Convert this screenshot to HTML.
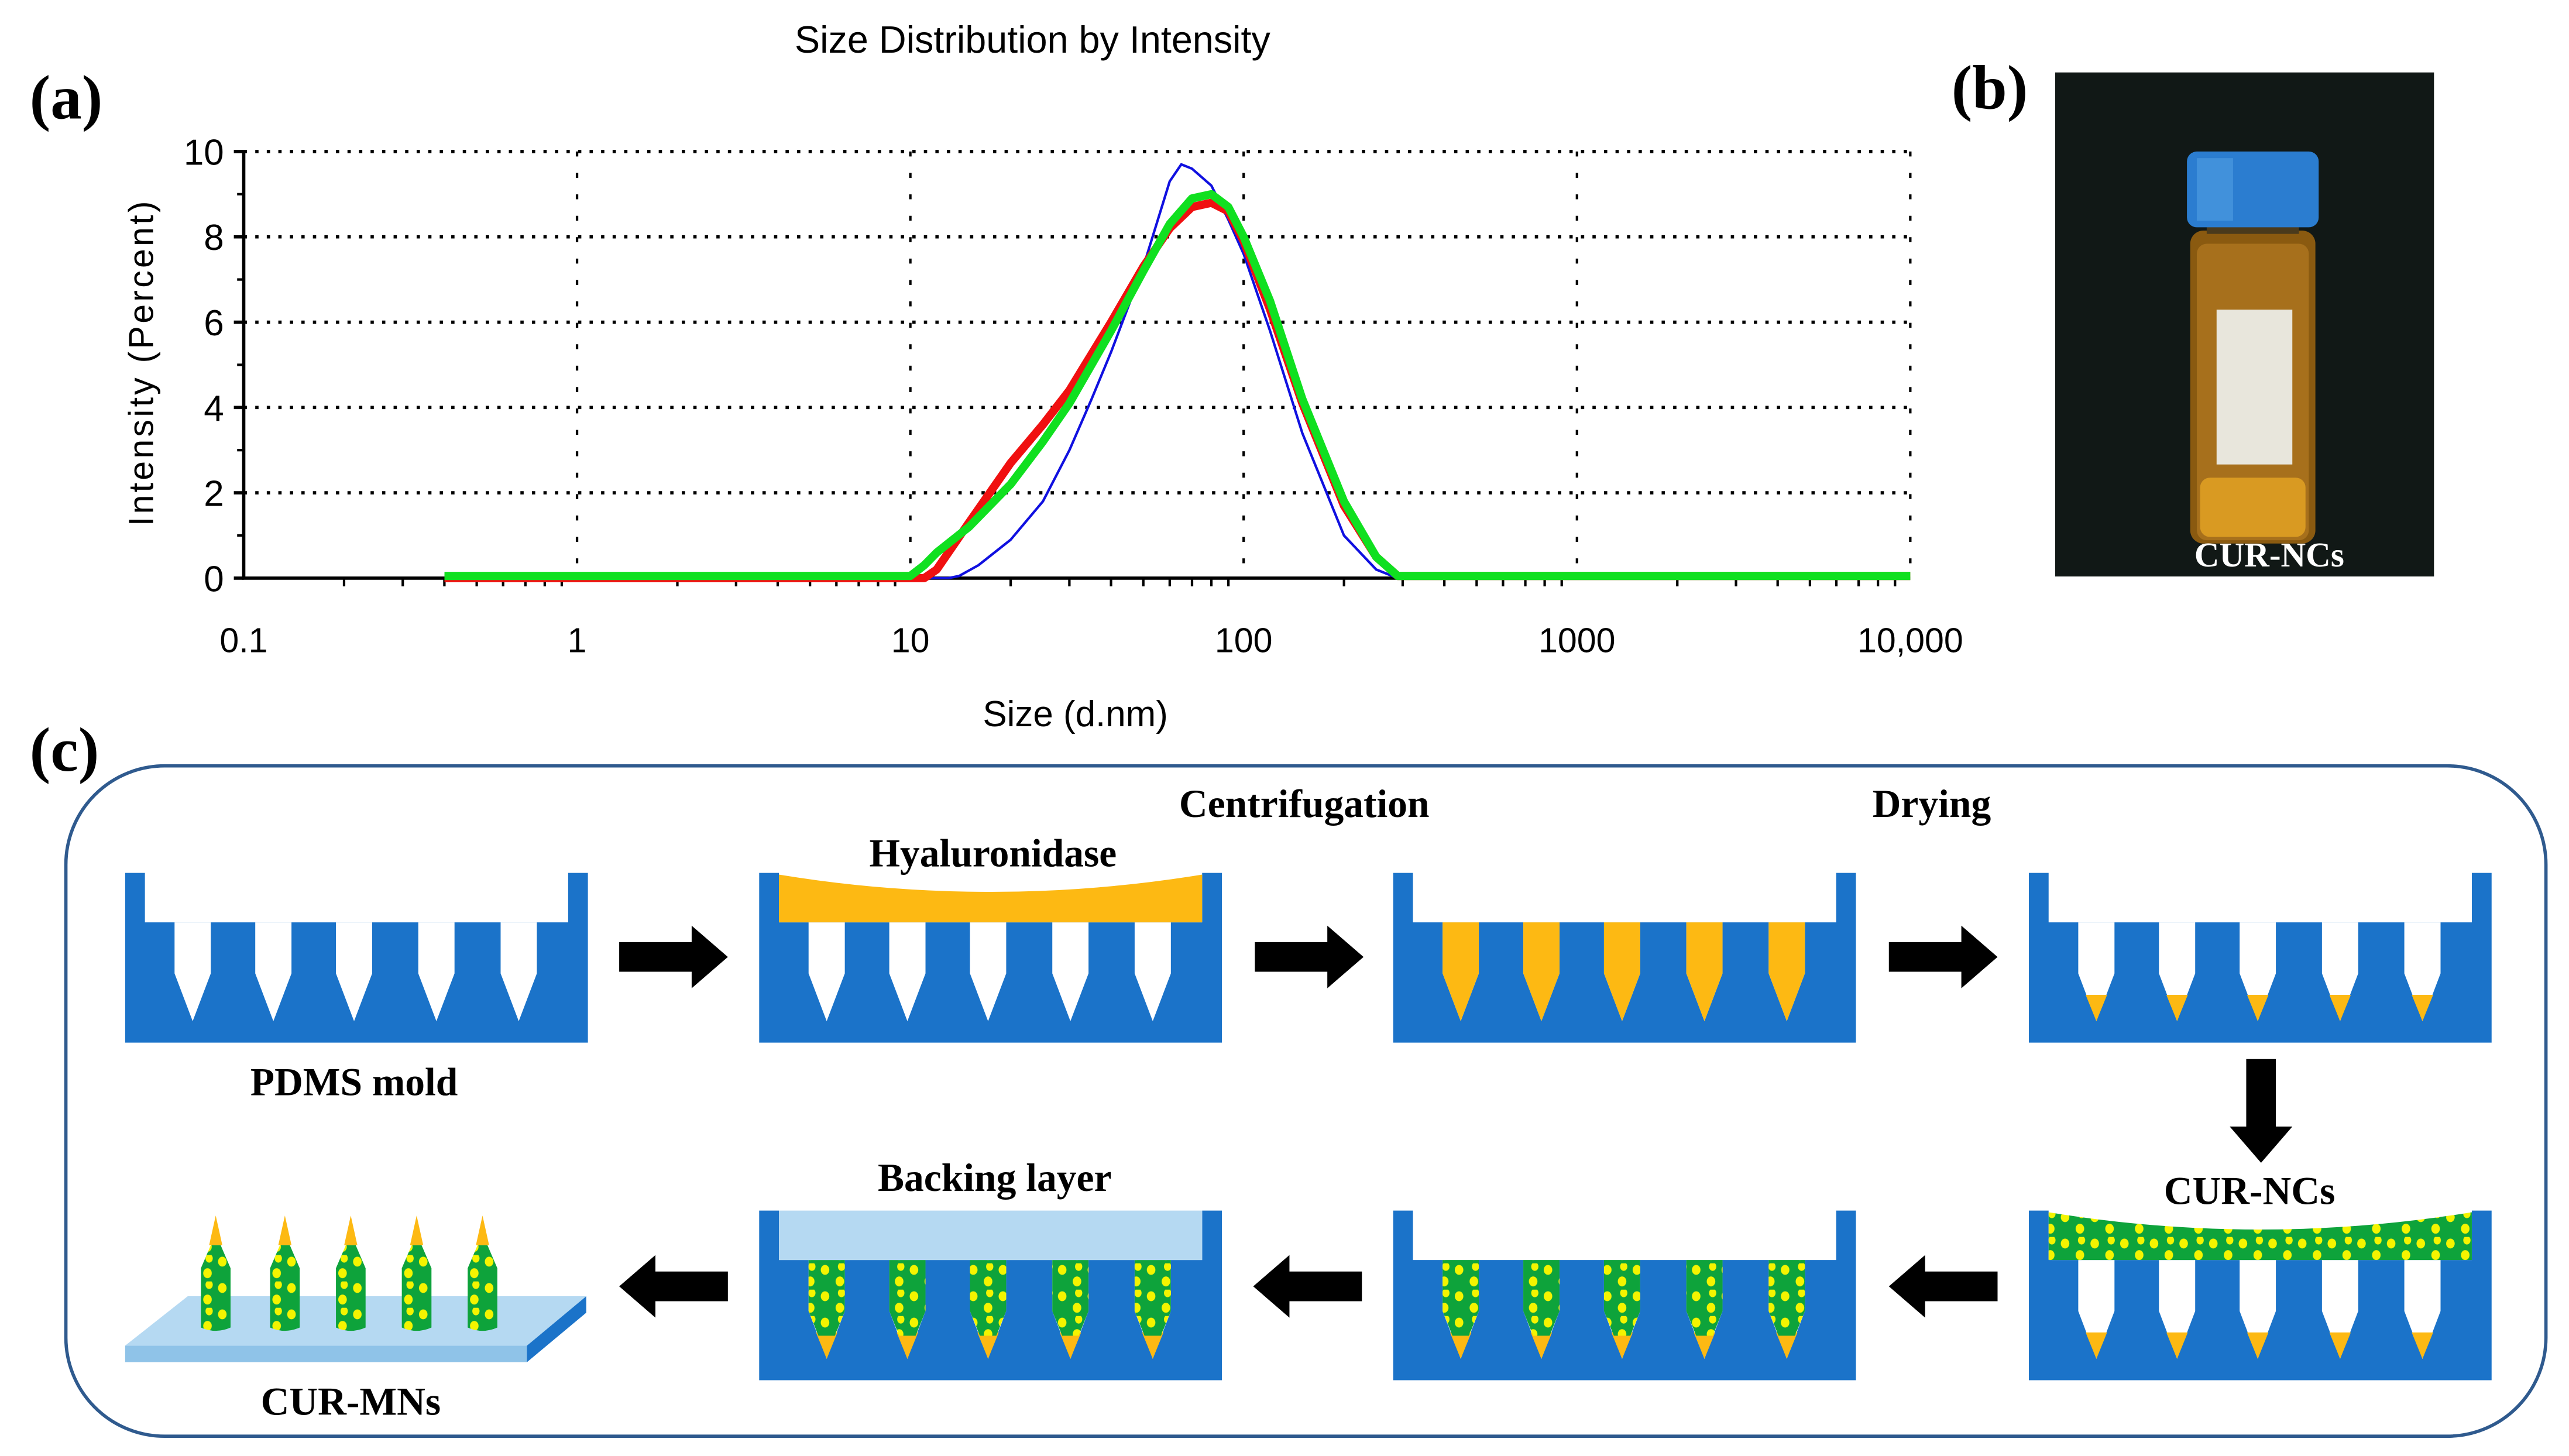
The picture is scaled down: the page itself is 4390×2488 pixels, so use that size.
<!DOCTYPE html>
<html><head><meta charset="utf-8"><style>
html,body{margin:0;padding:0;background:#fff}
svg{display:block}
.tn{font-family:"Liberation Serif",serif;font-weight:bold}
.ss{font-family:"Liberation Sans",sans-serif}
</style></head><body>
<svg id="fig" width="4390" height="2488" viewBox="0 0 1560 884" preserveAspectRatio="none">
<defs>
<pattern id="dots" width="18" height="16" patternUnits="userSpaceOnUse">
<rect width="18" height="16" fill="#0ea33b"/>
<ellipse cx="4" cy="4" rx="2.6" ry="3" fill="#f4f400"/>
<ellipse cx="13" cy="11" rx="2.6" ry="3" fill="#f4f400"/>
<ellipse cx="14" cy="2" rx="2.2" ry="2.6" fill="#f4f400"/>
</pattern>
<g id="moldbase">
<path d="M0 0H12V30H269V0H281V103H0Z" fill="#1b73c9"/>
<g fill="#fff">
<path d="M30 30H52V61L41 90L30 61Z"/><path d="M79 30H101V61L90 90L79 61Z"/><path d="M128 30H150V61L139 90L128 61Z"/><path d="M178 30H200V61L189 90L178 61Z"/><path d="M228 30H250V61L239 90L228 61Z"/>
</g>
</g>
<g id="tips" fill="#fdb913">
<path d="M34.5 74H47.5L41 90Z"/><path d="M83.5 74H96.5L90 90Z"/><path d="M132.5 74H145.5L139 90Z"/><path d="M182.5 74H195.5L189 90Z"/><path d="M232.5 74H245.5L239 90Z"/>
</g>
<g id="fulltips" fill="#fdb913">
<path d="M30 30H52V61L41 90L30 61Z"/><path d="M79 30H101V61L90 90L79 61Z"/><path d="M128 30H150V61L139 90L128 61Z"/><path d="M178 30H200V61L189 90L178 61Z"/><path d="M228 30H250V61L239 90L228 61Z"/>
</g>
<g id="greenneedles" fill="url(#dots)">
<path d="M30 30H52V61L46 76H36L30 61Z"/><path d="M79 30H101V61L95 76H85L79 61Z"/><path d="M128 30H150V61L144 76H134L128 61Z"/><path d="M178 30H200V61L194 76H184L178 61Z"/><path d="M228 30H250V61L244 76H234L228 61Z"/>
</g>
<g id="mn">
<path d="M-9 44V8L-3 -6H3L9 8V44Q0 48 -9 44Z" fill="url(#dots)"/>
<path d="M-4 -6H4L0 -24Z" fill="#fdb913"/>
</g>
</defs>

<!-- panel (a) -->
<text class="tn" x="18" y="72" font-size="38">(a)</text>
<text class="ss" x="627" y="32" font-size="23" text-anchor="middle">Size Distribution by Intensity</text>
<g id="chart"></g>
<text class="ss" x="653" y="441" font-size="22" text-anchor="middle">Size (d.nm)</text>
<text class="ss" x="0" y="0" font-size="21" letter-spacing="1.5" text-anchor="middle" transform="translate(93,220) rotate(-90)">Intensity (Percent)</text>

<!-- panel (b) -->
<text class="tn" x="1185" y="66" font-size="38">(b)</text>
<g>
<rect x="1248" y="44" width="230" height="306" fill="#0c1210"/>
<rect x="1248" y="44" width="230" height="306" fill="#1a2420" opacity="0.4"/>
<rect x="1330" y="140" width="76" height="190" rx="8" fill="#8a5a10"/>
<rect x="1334" y="148" width="68" height="180" rx="6" fill="#a7701c"/>
<rect x="1336" y="290" width="64" height="36" rx="6" fill="#d99a22"/>
<rect x="1346" y="188" width="46" height="94" fill="#e8e6dc"/>
<rect x="1340" y="124" width="56" height="18" fill="#4a3a1c"/>
<rect x="1328" y="92" width="80" height="46" rx="6" fill="#2b7dd0"/>
<rect x="1334" y="96" width="22" height="38" fill="#4c9ae0" opacity="0.7"/>
<text class="tn" x="1378" y="344" font-size="21" fill="#fff" text-anchor="middle">CUR-NCs</text>
</g>

<!-- panel (c) -->
<text class="tn" x="18" y="468" font-size="38">(c)</text>
<rect x="40" y="465" width="1506" height="407" rx="60" fill="none" stroke="#2f5a8e" stroke-width="2"/>

<g transform="translate(76,530)"><use href="#moldbase"/></g>
<g transform="translate(461,530)">
<use href="#moldbase"/><path d="M12 1Q140 22 269 1V30H12Z" fill="#fdb913"/></g>
<g transform="translate(846,530)"><use href="#moldbase"/><use href="#fulltips"/></g>
<g transform="translate(1232,530)"><use href="#moldbase"/><use href="#tips"/></g>
<g transform="translate(1232,735)"><use href="#moldbase"/><use href="#tips"/><path d="M12 1Q140 22 269 1V30H12Z" fill="url(#dots)"/></g>
<g transform="translate(846,735)"><use href="#moldbase"/><use href="#tips"/><use href="#greenneedles"/></g>
<g transform="translate(461,735)"><use href="#moldbase"/><use href="#tips"/><use href="#greenneedles"/><rect x="12" y="0" width="257" height="30" fill="#b5d9f2"/></g>

<g>
<path d="M76 817L114 787H356L320 817Z" fill="#b5d9f2"/>
<rect x="76" y="817" width="244" height="10" fill="#8fc3e8"/>
<path d="M320 817L356 787V797L320 827Z" fill="#1b73c9"/>
<use href="#mn" x="131" y="762"/><use href="#mn" x="173" y="762"/><use href="#mn" x="213" y="762"/><use href="#mn" x="253" y="762"/><use href="#mn" x="293" y="762"/>
</g>

<g fill="#000">
<path d="M376 572H420V562L442 581L420 600V590H376Z"/>
<path d="M762 572H806V562L828 581L806 600V590H762Z"/>
<path d="M1147 572H1191V562L1213 581L1191 600V590H1147Z"/>
<path d="M1364 643H1382V684H1392L1373 706L1354 684H1364Z"/>
<path d="M1213 772H1169V762L1147 781L1169 800V790H1213Z"/>
<path d="M827 772H783V762L761 781L783 800V790H827Z"/>
<path d="M442 772H398V762L376 781L398 800V790H442Z"/>
</g>

<g class="tn" font-size="24" text-anchor="middle">
<text x="215" y="665">PDMS mold</text>
<text x="603" y="526">Hyaluronidase</text>
<text x="792" y="496">Centrifugation</text>
<text x="1173" y="496">Drying</text>
<text x="1366" y="731">CUR-NCs</text>
<text x="604" y="723">Backing layer</text>
<text x="213" y="859">CUR-MNs</text>
</g>
</svg>
<script>
const xTicks = [0.1, 1, 10, 100, 1000, 10000];
const xTickLabels = ["0.1", "1", "10", "100", "1000", "10,000"];
const yTicks = [0, 2, 4, 6, 8, 10];
const greenSizes = [0.4, 10, 11, 12, 15, 20, 25, 30, 40, 50, 60, 70, 80, 90, 100, 120, 150, 200, 250, 290, 300, 10000];
const greenValues = [0.05, 0.05, 0.3, 0.6, 1.2, 2.2, 3.2, 4.1, 5.8, 7.2, 8.3, 8.9, 9.0, 8.7, 8.0, 6.5, 4.2, 1.8, 0.5, 0.05, 0.05, 0.05];
const redSizes = [0.4, 11, 12, 15, 20, 25, 30, 40, 50, 60, 70, 80, 90, 100, 120, 150, 200, 250, 290, 300, 10000];
const redValues = [0, 0, 0.2, 1.3, 2.7, 3.6, 4.4, 6.0, 7.3, 8.2, 8.7, 8.8, 8.6, 7.9, 6.3, 4.1, 1.7, 0.5, 0.05, 0.05, 0.05];
const blueSizes = [0.4, 13, 14, 16, 20, 25, 30, 35, 40, 50, 60, 65, 70, 80, 90, 100, 120, 150, 200, 250, 290, 10000];
const blueValues = [0, 0, 0.05, 0.3, 0.9, 1.8, 3.0, 4.2, 5.3, 7.3, 9.3, 9.7, 9.6, 9.2, 8.4, 7.6, 5.8, 3.4, 1.0, 0.2, 0, 0];

const NS = "http://www.w3.org/2000/svg";
const L = 148, R = 1160, T = 92, B = 351;
function xs(v){ return L + (Math.log10(v) - Math.log10(0.1)) / 5 * (R - L); }
function ys(v){ return B - v / 10 * (B - T); }
const g = document.getElementById('chart');
function mk(tag, attrs){ const e = document.createElementNS(NS, tag); for (const k in attrs) e.setAttribute(k, attrs[k]); g.appendChild(e); return e; }

yTicks.forEach(t => {
  if (t > 0) {
    const gl = mk('line', {x1: L, x2: R, y1: ys(t), y2: ys(t), stroke: '#000', 'stroke-width': 2, 'stroke-dasharray': '2 5'});
    
    
  }
  const tk = mk('line', {x1: L - 6, x2: L, y1: ys(t), y2: ys(t), stroke: '#000', 'stroke-width': 2});
  
  
  const lb = mk('text', {x: 136, y: ys(t) + 8, 'font-size': 22, 'text-anchor': 'end', 'font-family': 'Liberation Sans, sans-serif'});
  lb.textContent = t;
  
  
});
for (let t = 1; t < 10; t += 2) {
  const mt = mk('line', {x1: L - 4, x2: L, y1: ys(t), y2: ys(t), stroke: '#000', 'stroke-width': 1.5});
  
  
}
xTicks.forEach((t, i) => {
  if (i > 0) {
    const gl = mk('line', {x1: xs(t), x2: xs(t), y1: T, y2: B, stroke: '#000', 'stroke-width': 1.5, 'stroke-dasharray': '3 10'});
    
    
  }
  const lb = mk('text', {x: xs(t), y: 396, 'font-size': 21, 'text-anchor': 'middle', 'font-family': 'Liberation Sans, sans-serif'});
  lb.textContent = xTickLabels[i];
  
  
  if (i < xTicks.length - 1) {
    for (let m = 2; m < 10; m++) {
      const mt = mk('line', {x1: xs(t * m), x2: xs(t * m), y1: B, y2: B + 5, stroke: '#000', 'stroke-width': 1.5});
      
      
    }
  }
});
const ax = mk('path', {d: `M${L} ${T}V${B}H${R}`, fill: 'none', stroke: '#000', 'stroke-width': 2});



function series(sz, vals, color, w, name){
  const d = sz.map((s, i) => (i ? 'L' : 'M') + xs(s).toFixed(1) + ' ' + ys(vals[i]).toFixed(1)).join('');
  const p = mk('path', {d: d, fill: 'none', stroke: color, 'stroke-width': w, 'stroke-linejoin': 'round'});
  
  
}
series(blueSizes, blueValues, '#1010e0', 1.5, 'series-blue');
series(redSizes, redValues, '#f01010', 5, 'series-red');
series(greenSizes, greenValues, '#10e020', 5, 'series-green');
</script>
</body></html>
